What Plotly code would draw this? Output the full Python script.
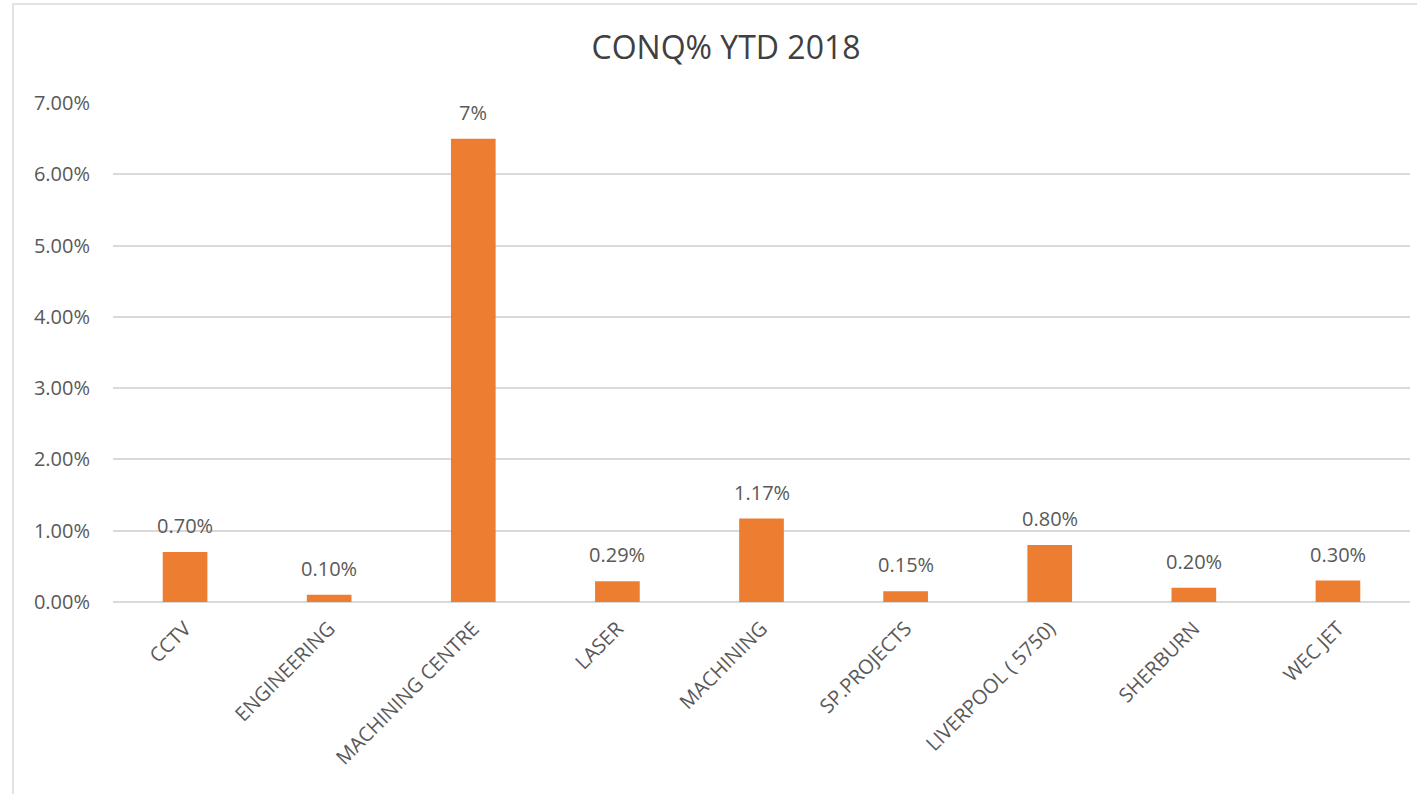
import plotly.graph_objects as go

categories = ["CCTV", "ENGINEERING", "MACHINING CENTRE", "LASER", "MACHINING",
              "SP.PROJECTS", "LIVERPOOL ( 5750)", "SHERBURN", "WEC JET"]
values = [0.0070, 0.0010, 0.0650, 0.0029, 0.0117, 0.0015, 0.0080, 0.0020, 0.0030]
labels = ["0.70%", "0.10%", "7%", "0.29%", "1.17%", "0.15%", "0.80%", "0.20%", "0.30%"]

FONT = "Open Sans"
TXT = "#595959"
GRID = "#D9D9D9"

fig = go.Figure(go.Bar(
    x=categories, y=values,
    marker=dict(color="#ED7D31", line=dict(width=0)),
    cliponaxis=False,
))

for c, v, t in zip(categories, values, labels):
    fig.add_annotation(x=c, y=v, text=t, showarrow=False, yanchor="bottom",
                       yshift=11, font=dict(family=FONT, size=20, color=TXT))

W, H = 1417, 794
L, R, T, B = 113, 7, 103, 192
pw, ph = W - L - R, H - T - B

fig.update_layout(
    width=W, height=H,
    margin=dict(l=L, r=R, t=T, b=B),
    paper_bgcolor="white", plot_bgcolor="white",
    bargap=0.69,
    showlegend=False,
    title=dict(text="CONQ% YTD 2018", x=(726 - L) / pw, xanchor="center", xref="paper",
               y=1 - 48 / H, yanchor="middle",
               font=dict(family=FONT, size=32, color="#404040")),
    font=dict(family=FONT, color=TXT),
    xaxis=dict(tickangle=-45, tickfont=dict(family=FONT, size=20, color=TXT),
               showgrid=False, showline=False, ticks="", ticklabelstandoff=10),
    yaxis=dict(range=[0, 0.07], dtick=0.01, tickformat=".2%",
               tickfont=dict(family=FONT, size=20, color=TXT),
               showgrid=True, gridcolor=GRID, gridwidth=1.5,
               zeroline=True, zerolinecolor=GRID, zerolinewidth=1.5,
               showline=False, ticks="", ticklabelstandoff=22),
    shapes=[dict(type="rect", xref="paper", yref="paper",
                 x0=(13 - L) / pw, x1=(1460 - L) / pw,
                 y0=-(H + 50 - T - ph) / ph, y1=1 + (T - 4) / ph,
                 line=dict(color="#D9D9D9", width=1.5), fillcolor="rgba(0,0,0,0)",
                 layer="below")],
)

fig.write_html("out.html")
